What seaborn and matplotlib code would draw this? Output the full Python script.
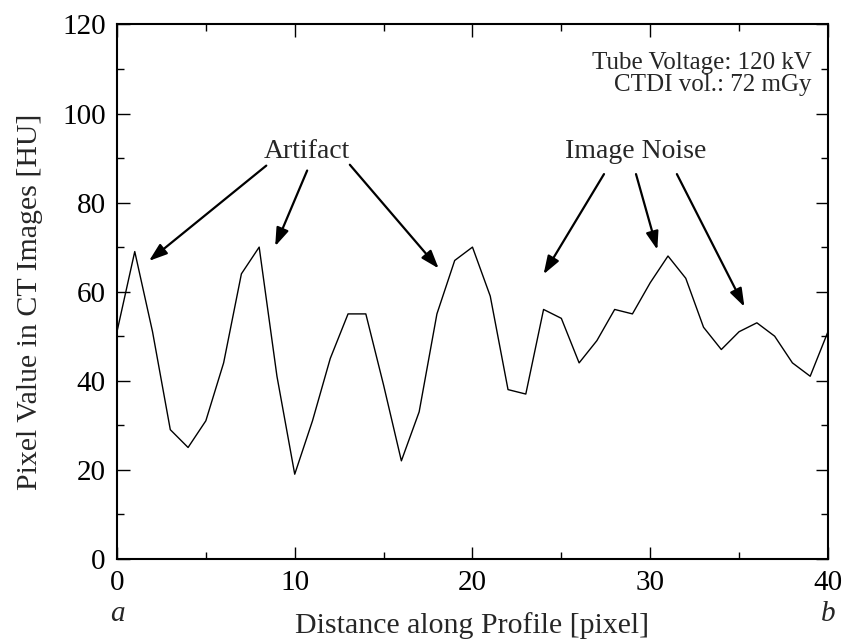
import matplotlib
matplotlib.use("Agg")
import matplotlib.pyplot as plt
import seaborn as sns
import pandas as pd

# Profile samples along the line a-b
distance = list(range(41))
pixel_value = [51, 69, 51, 29, 25, 31, 44, 64, 70, 41,
               19, 31, 45, 55, 55, 39, 22, 33, 55, 67,
               70, 59, 38, 37, 56, 54, 44, 49, 56, 55,
               62, 68, 63, 52, 47, 51, 53, 50, 44, 41, 51]

# Annotation labels, text anchors and arrow targets (data units)
artifact_label = "Artifact"
artifact_text = (10.7, 91.4)
artifact_tails = [(8.4, 88.3), (10.7, 87.2), (13.1, 88.5)]
artifact_heads = [(1.8, 66.9), (8.9, 70.2), (18.1, 65.2)]

noise_label = "Image Noise"
noise_text = (29.2, 91.4)
noise_tails = [(27.4, 86.4), (29.2, 86.4), (31.5, 86.4)]
noise_heads = [(24.0, 63.9), (30.4, 69.4), (35.3, 56.6)]

info_lines = ["Tube Voltage: 120 kV", "CTDI vol.: 72 mGy"]

sns.set_style("ticks")
plt.rcParams["font.family"] = ["Liberation Serif", "DejaVu Serif"]

df = pd.DataFrame({"distance": distance, "value": pixel_value})

fig = plt.figure(figsize=(8.44, 6.39), dpi=100)
ax = fig.add_axes([0.1386, 0.1255, 0.981 - 0.1386, 0.9617 - 0.1255])

sns.lineplot(data=df, x="distance", y="value", ax=ax, color="black",
             linewidth=1.0)

ax.set_xlim(0, 40)
ax.set_ylim(0, 120)
ax.set_xticks([0, 10, 20, 30, 40])
ax.set_xticks([5, 15, 25, 35], minor=True)
ax.set_yticks([0, 20, 40, 60, 80, 100, 120])
ax.set_yticks([10, 30, 50, 70, 90, 110], minor=True)
ax.tick_params(which="both", direction="in", top=True, right=True,
               width=1.0, colors="black", labelsize=21)
ax.tick_params(which="major", length=9)
ax.tick_params(which="minor", length=5)
ax.tick_params(axis="x", which="major", pad=8)
ax.tick_params(axis="y", which="major", pad=8)
for s in ax.spines.values():
    s.set_linewidth(1.5)
    s.set_color("black")

ax.set_xlabel("Distance along Profile [pixel]", fontsize=21.5)
ax.set_ylabel("Pixel Value in CT Images [HU]", fontsize=21.5)
ax.xaxis.label.set_va("center")
ax.yaxis.label.set_va("center")
ax.xaxis.set_label_coords(0.5, -0.124)
ax.yaxis.set_label_coords(-0.122, 0.481)

# profile end points
for xv, lab in [(0, "a"), (40, "b")]:
    ax.annotate(lab, xy=(xv, -0.103), xycoords=("data", "axes fraction"),
                ha="center", va="center", fontsize=21, style="italic",
                annotation_clip=False)

arrow_style = dict(arrowstyle="-|>,head_length=1.1,head_width=0.38",
                   color="black", lw=1.6, shrinkA=0, shrinkB=0)

ax.text(*artifact_text, artifact_label, ha="center", va="center", fontsize=20)
for t, h in zip(artifact_tails, artifact_heads):
    ax.annotate("", xy=h, xytext=t, arrowprops=arrow_style)

ax.text(*noise_text, noise_label, ha="center", va="center", fontsize=20)
for t, h in zip(noise_tails, noise_heads):
    ax.annotate("", xy=h, xytext=t, arrowprops=arrow_style)

ax.text(0.977, 0.928, info_lines[0], transform=ax.transAxes,
        ha="right", va="center", fontsize=18)
ax.text(0.977, 0.886, info_lines[1], transform=ax.transAxes,
        ha="right", va="center", fontsize=18)

fig.savefig("out.png", dpi=100)
